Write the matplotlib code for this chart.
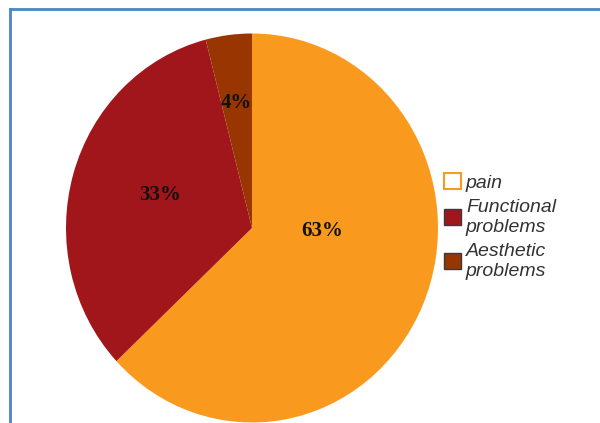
import matplotlib.pyplot as plt
from matplotlib.patches import Patch
from matplotlib.lines import Line2D

labels = ["pain", "Functional\nproblems", "Aesthetic\nproblems"]
shares = [63, 33, 4]
colors = ["#F99A1F", "#A1161B", "#983500"]

W, H = 600, 423
fig = plt.figure(figsize=(W / 100, H / 100), dpi=100)
ax = fig.add_axes([0, 0, 1, 1])

# pie centre and radii in pixels (slightly taller than wide)
cx, cy, rx, ry = 252, 228, 186, 194.5


def px(x, y):
    # pixel position -> pie data coordinates
    return (x - cx) / rx, (cy - y) / ry


wedges, texts, autotexts = ax.pie(
    shares, colors=colors, startangle=90, counterclock=False,
    autopct="%d%%", pctdistance=0.66,
    wedgeprops=dict(linewidth=0),
    textprops=dict(fontsize=15, fontweight="bold",
                   family=["Liberation Serif", "DejaVu Serif"]),
)
label_px = [(322, 231), (160, 195), (236, 103)]
for t, (x, y) in zip(autotexts, label_px):
    t.set_position(px(x, y))
    t.set_color("#111111")

ax.set_aspect("auto")
ax.set_xlim(-cx / rx, (W - cx) / rx)
ax.set_ylim(-(H - cy) / ry, cy / ry)
ax.axis("off")

handles = [
    Patch(facecolor="white", edgecolor=colors[0], linewidth=1.5),
    Patch(facecolor=colors[1], edgecolor="#3a3a3a", linewidth=1),
    Patch(facecolor=colors[2], edgecolor="#3a3a3a", linewidth=1),
]
leg = fig.legend(handles, labels, loc="upper left",
                 bbox_to_anchor=(444 / W, 1 - 173 / H),
                 frameon=False, borderpad=0, borderaxespad=0,
                 handlelength=0.88, handleheight=0.88,
                 handletextpad=0.25, labelspacing=0.38,
                 prop=dict(style="italic", size=14,
                           family=["Liberation Sans", "DejaVu Sans"]))
for t in leg.get_texts():
    t.set_color("#333333")
    t.set_linespacing(1.2)

# thin blue frame along the top and left edge
fig.add_artist(Line2D([10 / W, 10 / W], [0, 1 - 9 / H], color="#4A86C8", lw=2))
fig.add_artist(Line2D([10 / W, 1], [1 - 9 / H, 1 - 9 / H], color="#4A86C8", lw=2))

fig.savefig("out.png", dpi=100)
